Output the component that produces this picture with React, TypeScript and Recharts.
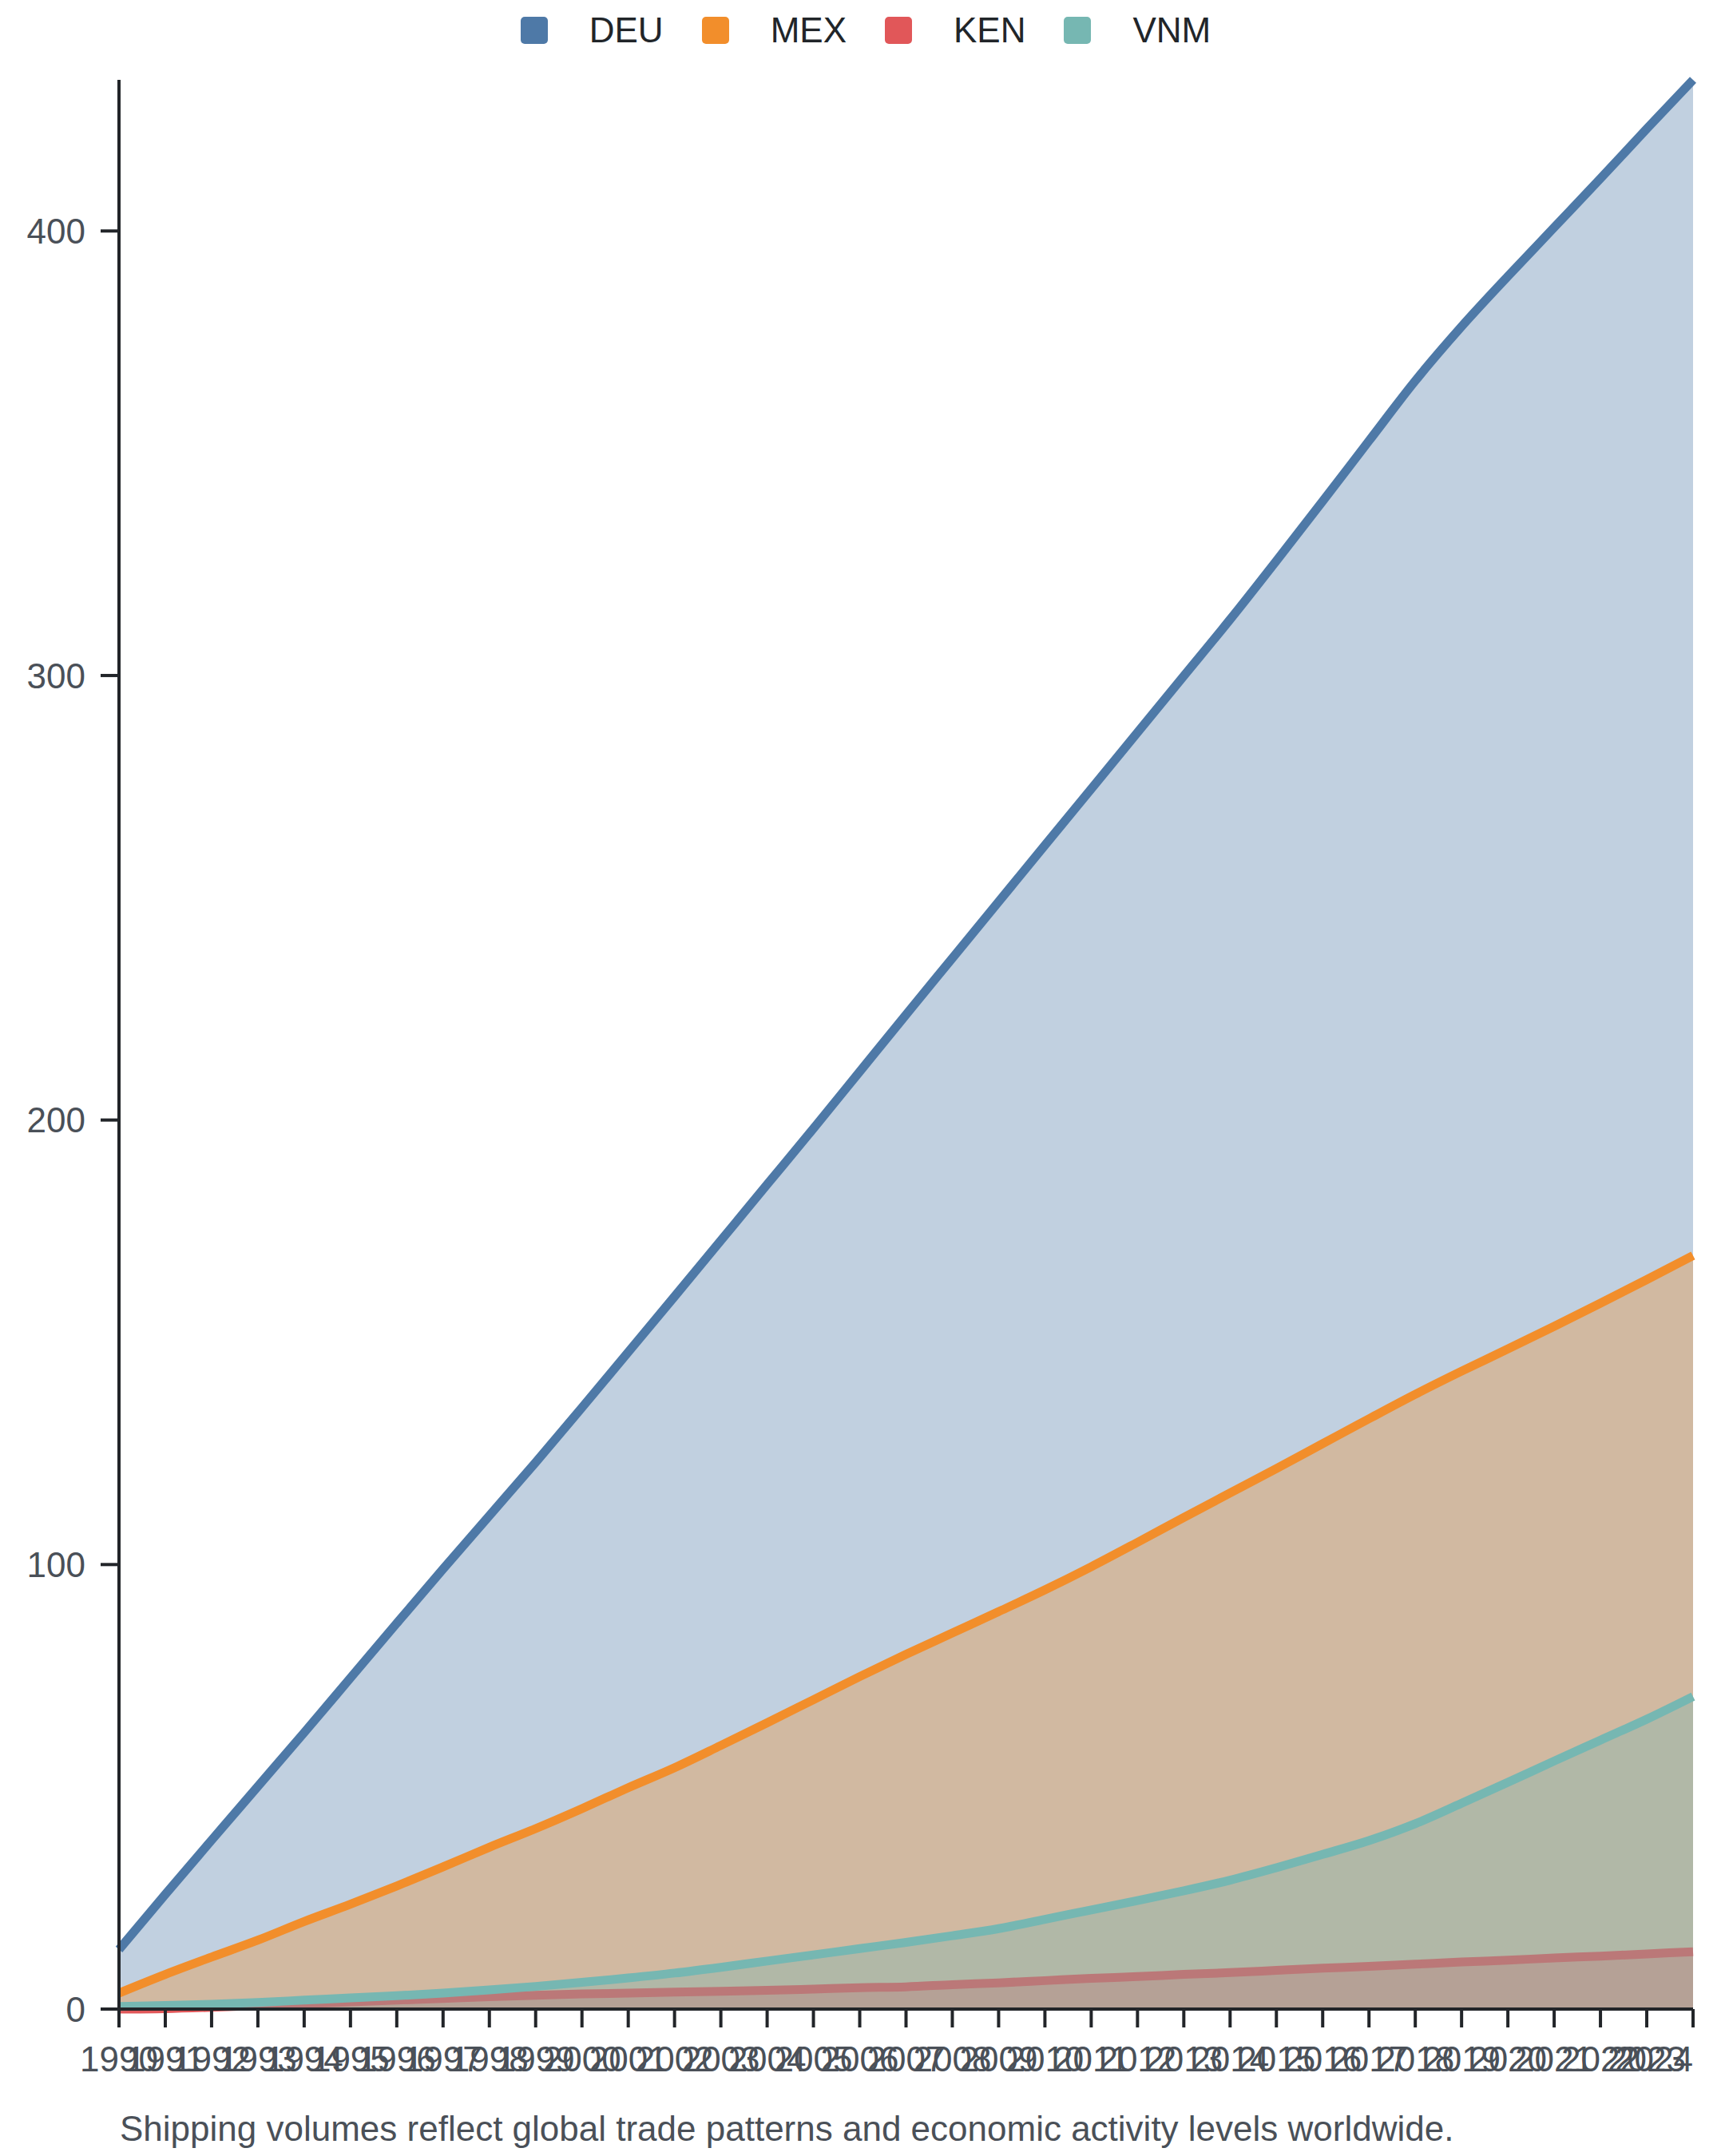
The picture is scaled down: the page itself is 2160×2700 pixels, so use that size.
import { AreaChart, Area, XAxis, YAxis, Legend } from 'recharts'

const years = [
	'1990', '1991', '1992', '1993', '1994', '1995', '1996', '1997', '1998', '1999',
	'2000', '2001', '2002', '2003', '2004', '2005', '2006', '2007', '2008', '2009',
	'2010', '2011', '2012', '2013', '2014', '2015', '2016', '2017', '2018', '2019',
	'2020', '2021', '2022', '2023', '2024',
]

const deu = [
	13.4, 25.8, 38, 50.1, 62.2, 74.5, 86.8, 99, 111, 123,
	135.3, 147.8, 160.3, 172.9, 185.5, 198.1, 210.9, 223.7, 236.4, 249.1,
	261.8, 274.5, 287.2, 299.9, 312.6, 325.8, 339.2, 352.8, 366.3, 378.5,
	389.8, 400.8, 411.8, 423, 434,
]

const mex = [
	3.6, 7.8, 11.7, 15.5, 19.7, 23.6, 27.7, 32, 36.4, 40.6,
	45.1, 49.8, 54.3, 59.3, 64.4, 69.6, 74.8, 79.8, 84.6, 89.4,
	94.3, 99.5, 105, 110.6, 116.1, 121.6, 127.2, 132.8, 138.3, 143.5,
	148.5, 153.6, 158.8, 164.1, 169.5,
]

const ken = [
	0, 0.1, 0.4, 0.8, 1.2, 1.6, 2, 2.4, 2.8, 3.1,
	3.4, 3.6, 3.8, 4, 4.2, 4.5, 4.8, 5, 5.5, 5.9,
	6.4, 6.9, 7.3, 7.8, 8.2, 8.7, 9.2, 9.6, 10.1, 10.6,
	11, 11.5, 11.9, 12.4, 12.9,
]

const vnm = [
	0.6, 0.8, 1.1, 1.5, 2, 2.5, 3, 3.6, 4.3, 5.1,
	6, 7, 8.1, 9.4, 10.8, 12.2, 13.6, 15, 16.5, 18.1,
	20.2, 22.3, 24.4, 26.6, 29, 31.8, 34.8, 37.9, 41.7, 46.3,
	51, 55.8, 60.5, 65.2, 70.3,
]

const seriesNames = ['DEU', 'MEX', 'KEN', 'VNM']
const seriesColors = ['#4e79a7', '#f28e2b', '#e15759', '#76b7b2']
const yTicks = [0, 100, 200, 300, 400]

const caption = 'Shipping volumes reflect global trade patterns and economic activity levels worldwide.'

const data = years.map((year, i) => ({
	year,
	DEU: deu[i],
	MEX: mex[i],
	KEN: ken[i],
	VNM: vnm[i],
}))

const FONT = '"Liberation Sans", Arial, Helvetica, sans-serif'
const AXIS = '#222529'
const TICK_TEXT = '#4a5058'

// last year label is right-aligned so it stays inside the chart
const YearTick = (props: any) => {
	const { x, y, payload } = props
	const isLast = payload.value === years[years.length - 1]
	return (
		<text
			x={x}
			y={y}
			dy='0.71em'
			textAnchor={isLast ? 'end' : 'middle'}
			fill={TICK_TEXT}
			fontSize={44}
			fontFamily={FONT}
		>
			{payload.value}
		</text>
	)
}

const renderLegend = () => (
	<div
		style={{
			display: 'flex',
			justifyContent: 'center',
			alignItems: 'center',
			height: 76,
			paddingLeft: 8,
			fontFamily: FONT,
			fontSize: 44,
			color: '#212529',
		}}
	>
		{seriesNames.map((name, i) => (
			<div
				key={name}
				style={{
					display: 'flex',
					alignItems: 'center',
					marginRight: i < seriesNames.length - 1 ? 48 : 0,
				}}
			>
				<span
					style={{
						display: 'inline-block',
						width: 34,
						height: 34,
						borderRadius: 5,
						background: seriesColors[i],
						marginRight: 52,
					}}
				/>
				<span>{name}</span>
			</div>
		))}
	</div>
)

const App = () => {
	return (
		<div style={{ position: 'absolute', left: 0, top: 0, width: 2160, height: 2700, background: '#fff' }}>
			<AreaChart
				width={2160}
				height={2700}
				data={data}
				margin={{ top: 24, right: 40, bottom: 84, left: 0 }}
			>
				<Legend
					verticalAlign='top'
					content={renderLegend}
					wrapperStyle={{ top: 0, left: 0, width: 2160, height: 76 }}
				/>
				<XAxis
					dataKey='year'
					type='category'
					interval={0}
					height={100}
					tickSize={23}
					tickMargin={24}
					axisLine={{ stroke: AXIS, strokeWidth: 4 }}
					tickLine={{ stroke: AXIS, strokeWidth: 4 }}
					tick={<YearTick />}
				/>
				<YAxis
					type='number'
					domain={[0, 'dataMax']}
					ticks={yTicks}
					width={149}
					tickSize={23}
					tickMargin={19}
					axisLine={{ stroke: AXIS, strokeWidth: 4 }}
					tickLine={{ stroke: AXIS, strokeWidth: 4 }}
					tick={{ fill: TICK_TEXT, fontSize: 44, fontFamily: FONT }}
				/>
				{seriesNames.map((name, i) => (
					<Area
						key={name}
						type='monotone'
						dataKey={name}
						stroke={seriesColors[i]}
						strokeWidth={11}
						fill={seriesColors[i]}
						fillOpacity={0.35}
						dot={false}
						activeDot={false}
						isAnimationActive={false}
					/>
				))}
			</AreaChart>
			<div
				style={{
					position: 'absolute',
					left: 150,
					top: 2641,
					fontFamily: FONT,
					fontSize: 44,
					lineHeight: '50px',
					color: TICK_TEXT,
					whiteSpace: 'nowrap',
				}}
			>
				{caption}
			</div>
		</div>
	)
}

export default App
